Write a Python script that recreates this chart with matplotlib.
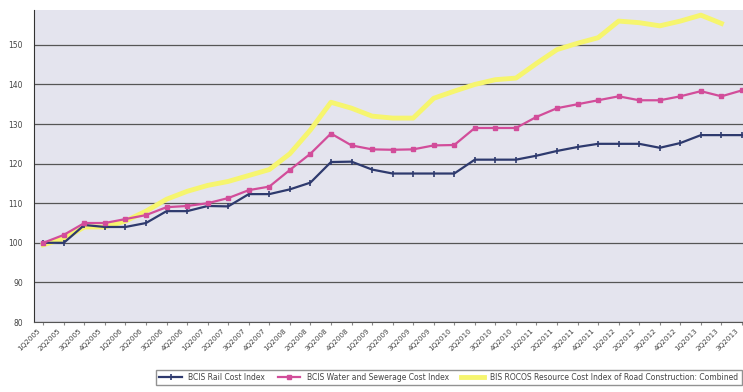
import numpy as np
import matplotlib.pyplot as plt

# quarters 1Q2005 .. 3Q2013
quarters = [f"{q}Q{y}" for y in range(2005, 2014) for q in range(1, 5)][:35]

rail = [100, 100, 104.5, 104, 104, 105, 108, 108, 109.3, 109.2,
        112.3, 112.3, 113.5, 115.2, 120.4, 120.5, 118.5, 117.5, 117.5, 117.5,
        117.5, 121, 121, 121, 122, 123.2, 124.2, 125, 125, 125,
        124, 125.2, 127.2, 127.2, 127.2]

water = [100, 102, 105, 105, 106, 107, 109, 109.3, 110, 111.3,
         113.3, 114.2, 118.4, 122.5, 127.6, 124.6, 123.6, 123.5, 123.6, 124.6,
         124.7, 129, 129, 129, 131.8, 134, 135, 136, 137, 136,
         136, 137, 138.3, 137, 138.5]

rocos = [99.5, 101, 104, 104, 105.5, 108, 111, 113, 114.5, 115.5,
         117, 118.5, 122.5, 128.5, 135.5, 134, 132, 131.5, 131.5, 136.5,
         138.3, 140, 141.2, 141.6, 145.3, 148.8, 150.4, 151.8, 156, 155.6,
         154.8, 156, 157.5, 155.4]

labels = ["BCIS Rail Cost Index",
          "BCIS Water and Sewerage Cost Index",
          "BIS ROCOS Resource Cost Index of Road Construction: Combined"]

fig = plt.figure(figsize=(7.43, 3.92), dpi=100)
ax = fig.add_axes([34/743, 70/392, 709/743, 312/392])
ax.set_facecolor('#e4e4ee')

x = np.arange(len(quarters))
ax.plot(x, rail, color='#2e3a6e', lw=1.6, marker='|', ms=4, mew=1.2, label=labels[0], zorder=3)
ax.plot(x, water, color='#d24d9a', lw=1.6, marker='s', ms=2.5, label=labels[1], zorder=3)
ax.plot(np.arange(len(rocos)), rocos, color='#f6f56e', lw=3.5, label=labels[2], zorder=2)

ax.set_ylim(80, 158.8)
ax.set_xlim(-0.45, 34.05)
ax.set_yticks(range(80, 160, 10))
ax.yaxis.grid(True, color='#555555', lw=0.9)
ax.set_axisbelow(True)

# tick marks on the quarters, labels set a little to the left (as in Excel)
ax.set_xticks(x)
ax.set_xticklabels([])
ax.set_xticks(x - 0.3, minor=True)
ax.set_xticklabels(quarters, minor=True, rotation=45, ha='right', rotation_mode='anchor',
                   fontsize=5.2, color='#444444')
ax.tick_params(axis='x', which='major', length=2, color='#888888')
ax.tick_params(axis='x', which='minor', length=0, pad=4)
ax.tick_params(axis='y', labelsize=5.5, labelcolor='#444444', length=0, pad=8)
for s in ['top', 'right']:
    ax.spines[s].set_visible(False)
ax.spines['left'].set_color('#333333')
ax.spines['bottom'].set_color('#555555')

leg = fig.legend(loc='center', bbox_to_anchor=(0.604, 0.037), ncol=3, fontsize=5.5,
                 frameon=True, fancybox=False, edgecolor='#777777', handlelength=3,
                 columnspacing=1.6, borderpad=0.45)
for t in leg.get_texts():
    t.set_color('#444444')

plt.savefig('out.png', dpi=100)
plt.close()
